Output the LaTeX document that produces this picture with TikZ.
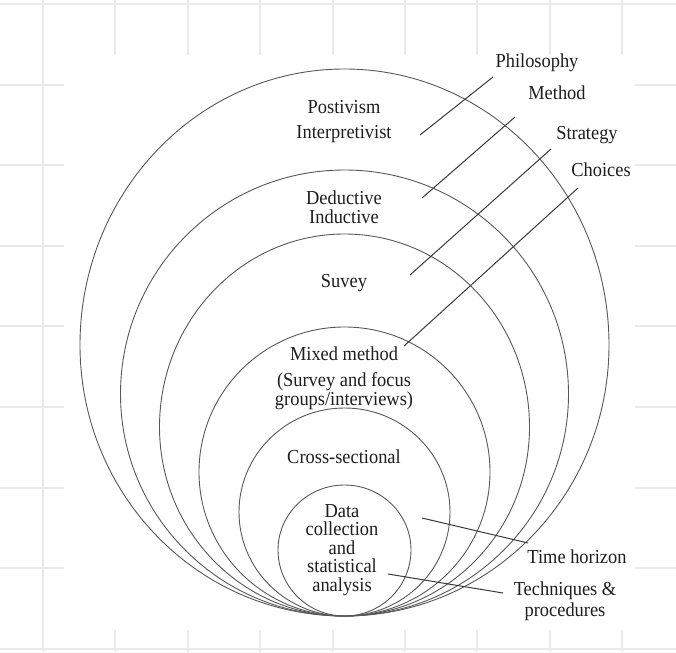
\documentclass[tikz,border=0pt]{standalone}
\usepackage{fontspec}
\setmainfont{Liberation Serif}
\newfontfamily\lblfont{Liberation Serif}[FakeStretch=0.93]
\definecolor{gridgray}{HTML}{EAEAEA}
\definecolor{ringgray}{HTML}{585858}
\definecolor{leadgray}{HTML}{3A3A3A}
\definecolor{textgray}{HTML}{1E1E1E}
\tikzset{
  gridline/.style={draw=gridgray, line width=1.3pt},
  ring/.style={draw=ringgray, line width=0.9pt},
  lead/.style={draw=leadgray, line width=1pt},
  lbl/.style={font=\lblfont\fontsize{19.8}{19.5}\selectfont, text=textgray, inner sep=0pt, align=center}
}
\begin{document}
\begin{tikzpicture}[x=1pt, y=-1pt]
\useasboundingbox (0,0) rectangle (676,652);
\fill[white] (0,0) rectangle (676,652);
% background grid
\foreach \x in {43,115,188,260,333,405,477,550,622} \draw[gridline] (\x,0) -- (\x,652);
\foreach \y in {4,85,165,246,326,407,488,568,649} \draw[gridline] (0,\y) -- (676,\y);
\fill[white] (64,55) rectangle (635,630);
% nested rings tangent at the bottom
\foreach \a/\w/\bu/\bd in {264.5/345/276/271, 224/394/224/222, 185/427/193/189, 145.5/472/145/144, 105.5/512/104/104, 66.5/550/65/66}
  \draw[ring] (344.5-\a,\w) arc[start angle=180, end angle=360, x radius=\a, y radius=\bu]
                arc[start angle=0, end angle=180, x radius=\a, y radius=\bd];
% inner texts
\node[lbl] (posit) at (344,107) {Postivism};
\node[lbl] (interp) at (344,134) {Interpretivist};
\node[lbl] (deduct) at (344,207) {Deductive\\Inductive};
\node[lbl] (suvey) at (344,283) {Suvey};
\node[lbl] (mixed) at (344,354) {Mixed method};
\node[lbl, font=\lblfont\fontsize{19.8}{18}\selectfont] (survfoc) at (344,391) {(Survey and focus\\groups/interviews)};
\node[lbl] (cross) at (344,457) {Cross-sectional};
\node[lbl, font=\lblfont\fontsize{19.8}{18.6}\selectfont] (data) at (342,550) {Data\\collection\\and\\statistical\\analysis};
% outer labels
\node[lbl] (phil) at (537,63) {Philosophy};
\node[lbl] (meth) at (557,93) {Method};
\node[lbl] (strat) at (587,135) {Strategy};
\node[lbl] (choic) at (601,170) {Choices};
\node[lbl] (timeh) at (577,557) {Time horizon};
\node[lbl, font=\lblfont\fontsize{19.8}{21}\selectfont] (techn) at (565,601) {Techniques \&\\procedures};
% leader ends
\coordinate (p1a) at (420,135); \coordinate (p1b) at (493,77);
\coordinate (p2a) at (422,198); \coordinate (p2b) at (515,117);
\coordinate (p3a) at (410,275); \coordinate (p3b) at (551,149);
\coordinate (p4a) at (404,346); \coordinate (p4b) at (578,188);
\coordinate (p5a) at (422,518); \coordinate (p5b) at (528,543);
\coordinate (p6a) at (388,574); \coordinate (p6b) at (503,593);
\draw[lead] (p1a) -- (p1b);
\draw[lead] (p2a) -- (p2b);
\draw[lead] (p3a) -- (p3b);
\draw[lead] (p4a) -- (p4b);
\draw[lead] (p5a) -- (p5b);
\draw[lead] (p6a) -- (p6b);
\end{tikzpicture}
\end{document}
